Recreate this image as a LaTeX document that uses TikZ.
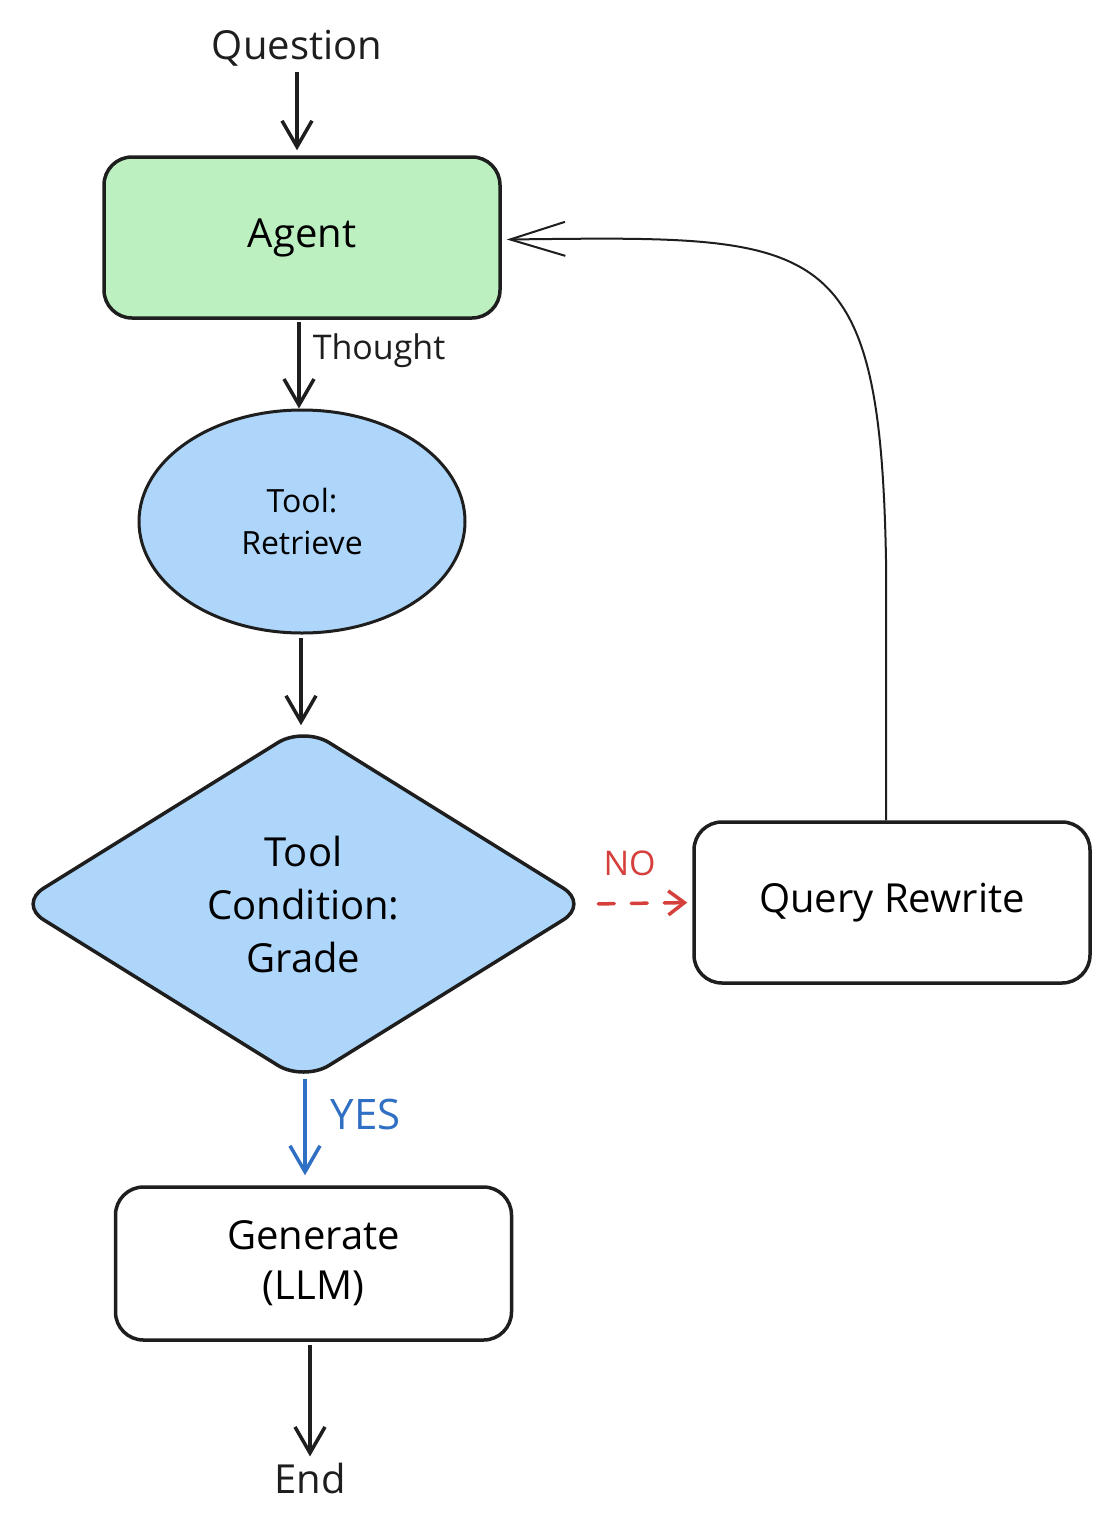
\documentclass[tikz,border=0pt]{standalone}
\usepackage{fontspec}
\setmainfont{Open Sans}
\usetikzlibrary{arrows.meta,shapes.geometric}
\definecolor{ink}{HTML}{1E1E1E}
\definecolor{agentgreen}{HTML}{BDF0C1}
\definecolor{toolblue}{HTML}{AED6FB}
\definecolor{nored}{HTML}{D6403C}
\definecolor{yesblue}{HTML}{2F6FC4}
\tikzset{
  box/.style={draw=ink, line width=3.5pt, rounded corners=28pt, minimum width=396pt,
    minimum height=161pt, inner sep=0pt, align=center, font=\fontsize{40}{50}\selectfont},
  plain/.style={inner sep=0pt, align=center, font=\fontsize{40}{50}\selectfont, text=ink},
  flow/.style={draw=ink, line width=3.5pt, -{Straight Barb[length=26pt,width=30pt,line width=3.5pt]}},
  lbl/.style={inner sep=0pt, font=\fontsize{34}{40}\selectfont},
}
\begin{document}
\begin{tikzpicture}[x=1pt,y=-1pt]
\useasboundingbox (0,0) rectangle (1118,1526);
\fill[white] (0,0) rectangle (1118,1526);

\node[plain] (q) at (297,48) {Question};
\node[box, fill=agentgreen] (agent) at (302,237.5) {Agent};
\node[draw=ink, fill=toolblue, line width=3pt, ellipse, minimum width=326pt, minimum height=223pt,
  inner sep=0pt, align=center, font=\fontsize{32}{42}\selectfont] (tool) at (302,521.5) {Tool:\\Retrieve};
\node[draw=ink, fill=toolblue, line width=3.5pt, diamond, rounded corners=30pt, minimum width=572pt,
  minimum height=356pt, inner sep=0pt, align=center, font=\fontsize{40}{53}\selectfont] (grade) at (303.5,904)
  {Tool\\Condition:\\Grade};
\node[box] (qr) at (892,902.5) {Query Rewrite};
\node[box, minimum height=153pt] (gen) at (313.5,1263.5) {Generate\\(LLM)};
\node[plain] (end) at (310,1478) {End};

\coordinate (up) at (886,560);

\draw[flow, shorten <=6pt, shorten >=5pt] (q.south) -- (q.south |- agent.north);
\draw[flow, shorten <=2pt] ([xshift=-3pt]agent.south) -- ([xshift=-3pt]agent.south |- tool.north)
  node[lbl, pos=0.35, right=12pt, text=ink] (thought) {Thought};
\draw[flow, shorten <=3pt, shorten >=-1pt] ([xshift=-1pt]tool.south) -- ([xshift=-1pt]tool.south |- grade.north);
\draw[flow, draw=yesblue, shorten <=-5pt, shorten >=10pt,
  -{Straight Barb[length=26pt,width=30pt,line width=3.5pt]}] ([xshift=1.5pt]grade.south) -- ([xshift=1.5pt]grade.south |- gen.north)
  node[lbl, pos=0.3, right=24pt, text=yesblue, font=\fontsize{42}{48}\selectfont] (yes) {YES};
\draw[draw=nored, line width=3.5pt, line cap=round, dash pattern=on 16pt off 17pt,
  shorten <=7pt, shorten >=5pt, -{Straight Barb[length=16pt,width=24pt,line width=3.5pt]}]
  (grade.east) -- (qr.west)
  node[lbl, pos=0.38, above=26pt, text=nored] (no) {NO};
\draw[draw=ink, line width=2pt, -{Straight Barb[length=55pt,width=34pt,line width=2pt]}]
  ([xshift=-6pt]qr.north) -- (up) .. controls (880,230) and (820,236) .. ([xshift=5pt,yshift=-2pt]agent.east);
\draw[flow, shorten <=3pt, shorten >=6pt] ([xshift=-3.5pt]gen.south) -- ([xshift=-3.5pt]gen.south |- end.north);
\end{tikzpicture}
\end{document}
